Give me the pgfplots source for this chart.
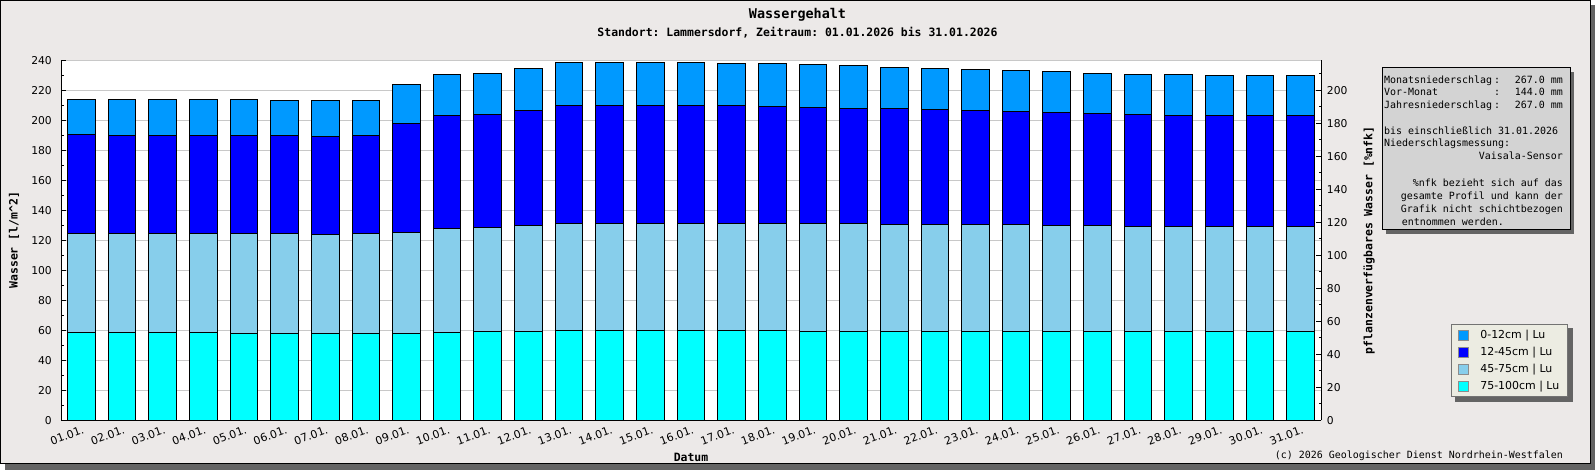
\documentclass[border=0pt]{standalone}
\usepackage{fontspec}
\setmainfont{DejaVu Sans}
\setsansfont{DejaVu Sans}
\setmonofont{DejaVu Sans Mono}
\usepackage{pgfplots}
\pgfplotsset{compat=1.18}
\usepackage{pgfplotstable}

\definecolor{bgc}{RGB}{236,233,232}
\definecolor{cA}{RGB}{0,153,255}
\definecolor{cB}{RGB}{0,0,255}
\definecolor{cC}{RGB}{135,206,235}
\definecolor{cD}{RGB}{0,255,255}
\definecolor{gridc}{RGB}{200,200,200}
\definecolor{boxc}{RGB}{211,211,211}
\definecolor{legc}{RGB}{236,236,226}
\definecolor{shadc}{RGB}{100,100,100}

% layers: d = 75-100cm, c = 45-75cm, b = 12-45cm, a = 0-12cm
\pgfplotstableread{
x  d    c    b    a
1  58.7 65.7 66.3 23.3
2  58.7 65.7 65.6 24.0
3  58.7 65.7 65.6 24.0
4  58.7 65.7 65.6 24.0
5  58.0 66.4 65.6 24.0
6  58.0 66.4 65.6 23.3
7  58.0 65.7 65.6 24.0
8  58.0 66.4 65.6 23.3
9  58.0 67.1 72.9 25.8
10 58.7 69.3 75.3 27.4
11 59.3 69.4 75.3 27.3
12 59.3 70.7 76.7 28.0
13 60.0 71.3 78.7 28.7
14 60.0 71.3 78.7 28.7
15 60.0 71.3 78.7 28.7
16 60.0 71.3 78.7 28.7
17 60.0 71.3 78.7 28.0
18 60.0 71.3 78.0 28.7
19 59.3 72.0 77.4 28.6
20 59.3 72.0 76.7 28.7
21 59.3 71.4 77.3 27.3
22 59.3 71.4 76.6 27.4
23 59.3 71.4 76.0 27.3
24 59.3 71.4 75.3 27.3
25 59.3 70.7 75.3 27.4
26 59.3 70.7 74.7 26.6
27 59.3 70.0 74.7 26.7
28 59.3 70.0 74.0 27.4
29 59.3 70.0 74.0 26.7
30 59.3 70.0 74.0 26.7
31 59.3 70.0 74.0 26.7
}\data

\begin{document}
\begin{tikzpicture}
\useasboundingbox (0bp,0bp) rectangle (1595bp,470bp);
% frame with shadow
\fill[shadc] (5bp,0bp) rectangle (1595bp,465bp);
\filldraw[fill=bgc,draw=black,line width=1bp] (0.5bp,6bp) rectangle (1590bp,469.5bp);

% titles
\node[anchor=base,inner sep=0pt,font=\ttfamily\bfseries\fontsize{13.5}{15}\selectfont] at (797.5bp,451.7bp) {Wassergehalt};
\node[anchor=base,inner sep=0pt,font=\ttfamily\bfseries\fontsize{11.5}{13}\selectfont] at (797.5bp,433.3bp) {Standort: Lammersdorf, Zeitraum: 01.01.2026 bis 31.01.2026};

% legend shadow
\fill[shadc] (1455bp,68bp) rectangle (1573bp,142bp);

\begin{axis}[
  at={(61bp,49.7bp)}, anchor=south west, scale only axis,
  width=1260bp, height=360bp,
  xmin=0.5, xmax=31.5, ymin=0, ymax=240,
  ybar stacked, bar width=0.68,
  axis background/.style={fill=white},
  axis x line*=bottom, axis y line*=left,
  axis line style={-,line width=1bp,black},
  tick align=inside,
  xtick={1,...,31},
  xticklabels={01.01.,02.01.,03.01.,04.01.,05.01.,06.01.,07.01.,08.01.,09.01.,10.01.,11.01.,12.01.,13.01.,14.01.,15.01.,16.01.,17.01.,18.01.,19.01.,20.01.,21.01.,22.01.,23.01.,24.01.,25.01.,26.01.,27.01.,28.01.,29.01.,30.01.,31.01.},
  xtick style={draw=none},
  ytick={0,20,...,240}, minor ytick={10,30,...,230},
  major tick length=5bp, minor tick length=2.5bp,
  tick style={black,line width=1bp},
  ymajorgrids, grid style={gridc,line width=1bp},
  /pgf/number format/assume math mode=true,
  tick label style={font=\fontsize{10.8}{12}\selectfont},
  yticklabel style={anchor=east,inner sep=0pt,xshift=-9bp},
  xticklabel style={rotate=20,anchor=north east,inner sep=0pt,xshift=-1bp,yshift=-5bp,font=\fontsize{11}{12}\selectfont},
  ylabel={Wasser [l/m\textasciicircum 2]},
  every axis y label/.style={at={(axis description cs:-0.0373,0.5)},rotate=90,anchor=center,font=\ttfamily\bfseries\fontsize{11.5}{13}\selectfont},
  xlabel={Datum},
  every axis x label/.style={at={(axis description cs:0.5,-0.102)},anchor=center,font=\ttfamily\bfseries\fontsize{11.5}{13}\selectfont},
  reverse legend,
  legend cell align=left,
  legend image code/.code={\draw[#1,draw=black!45,line width=0.8bp] (0bp,-5bp) rectangle (10bp,5bp);},
  legend style={at={(axis description cs:1.1032,0.2675)},anchor=north west,
    fill=legc,draw=black!55,line width=1bp,
    font=\fontsize{11}{13}\selectfont,
    inner xsep=6bp,inner ysep=3.5bp,row sep=3.3bp,
    /tikz/every odd column/.append style={column sep=10bp}},
]
\addplot[fill=cD,draw=black,line width=1bp] table[x=x,y=d]{\data};
\addlegendentry{75-100cm | Lu}
\addplot[fill=cC,draw=black,line width=1bp] table[x=x,y=c]{\data};
\addlegendentry{45-75cm | Lu}
\addplot[fill=cB,draw=black,line width=1bp] table[x=x,y=b]{\data};
\addlegendentry{12-45cm | Lu}
\addplot[fill=cA,draw=black,line width=1bp] table[x=x,y=a]{\data};
\addlegendentry{0-12cm | Lu}
\end{axis}

% right axis
\begin{axis}[
  at={(61bp,49.7bp)}, anchor=south west, scale only axis,
  width=1260bp, height=360bp,
  xmin=0.5, xmax=31.5, ymin=0, ymax=218.18,
  axis x line=none, axis y line*=right,
  axis line style={-,line width=1bp,black},
  tick align=inside,
  ytick={0,20,...,200}, minor ytick={10,30,...,210},
  major tick length=5bp, minor tick length=2.5bp,
  tick style={black,line width=1bp},
  /pgf/number format/assume math mode=true,
  tick label style={font=\fontsize{10.8}{12}\selectfont},
  yticklabel style={anchor=west,inner sep=0pt,xshift=5.7bp},
  ylabel={pflanzenverfügbares Wasser [\%nfk]},
  every axis y label/.style={at={(axis description cs:1.0381,0.5)},rotate=90,anchor=center,font=\ttfamily\bfseries\fontsize{11.5}{13}\selectfont},
]
\end{axis}

% x tick marks between the bars
\begin{axis}[
  at={(61bp,49.7bp)}, anchor=south west, scale only axis,
  width=1260bp, height=360bp,
  xmin=0.5, xmax=31.5, ymin=0, ymax=240,
  axis y line=none, axis x line*=bottom,
  axis line style={-,line width=1bp,black},
  tick align=inside,
  xtick=\empty, minor xtick={1.5,2.5,...,30.5},
  minor tick length=5bp,
  tick style={black,line width=1bp},
]
\end{axis}

% info box
\fill[shadc] (1386bp,236bp) rectangle (1574bp,398bp);
\filldraw[fill=boxc,draw=black,line width=1bp] (1382bp,240bp) rectangle (1570bp,402bp);
\begin{scope}[every node/.style={inner sep=0pt,font=\ttfamily\fontsize{10}{13}\selectfont}]
\node[anchor=base west] at (1384bp,386.7bp) {Monatsniederschlag};
\node[anchor=base west] at (1384bp,374bp) {Vor-Monat};
\node[anchor=base west] at (1384bp,361.7bp) {Jahresniederschlag};
\node[anchor=base] at (1497bp,386.7bp) {:};
\node[anchor=base] at (1497bp,374bp) {:};
\node[anchor=base] at (1497bp,361.7bp) {:};
\node[anchor=base east] at (1563bp,386.7bp) {267.0 mm};
\node[anchor=base east] at (1563bp,374bp) {144.0 mm};
\node[anchor=base east] at (1563bp,361.7bp) {267.0 mm};
\node[anchor=base west] at (1384bp,335.7bp) {bis einschließlich 31.01.2026};
\node[anchor=base west] at (1384bp,323.3bp) {Niederschlagsmessung:};
\node[anchor=base east] at (1563bp,310bp) {Vaisala-Sensor};
\node[anchor=base east] at (1563bp,283.3bp) {\%nfk bezieht sich auf das};
\node[anchor=base east] at (1563bp,270bp) {gesamte Profil und kann der};
\node[anchor=base east] at (1563bp,257.3bp) {Grafik nicht schichtbezogen};
\node[anchor=base west] at (1401.7bp,244.3bp) {entnommen werden.};
\node[anchor=base east] at (1563bp,11.7bp) {(c) 2026 Geologischer Dienst Nordrhein-Westfalen};
\end{scope}
\end{tikzpicture}
\end{document}
